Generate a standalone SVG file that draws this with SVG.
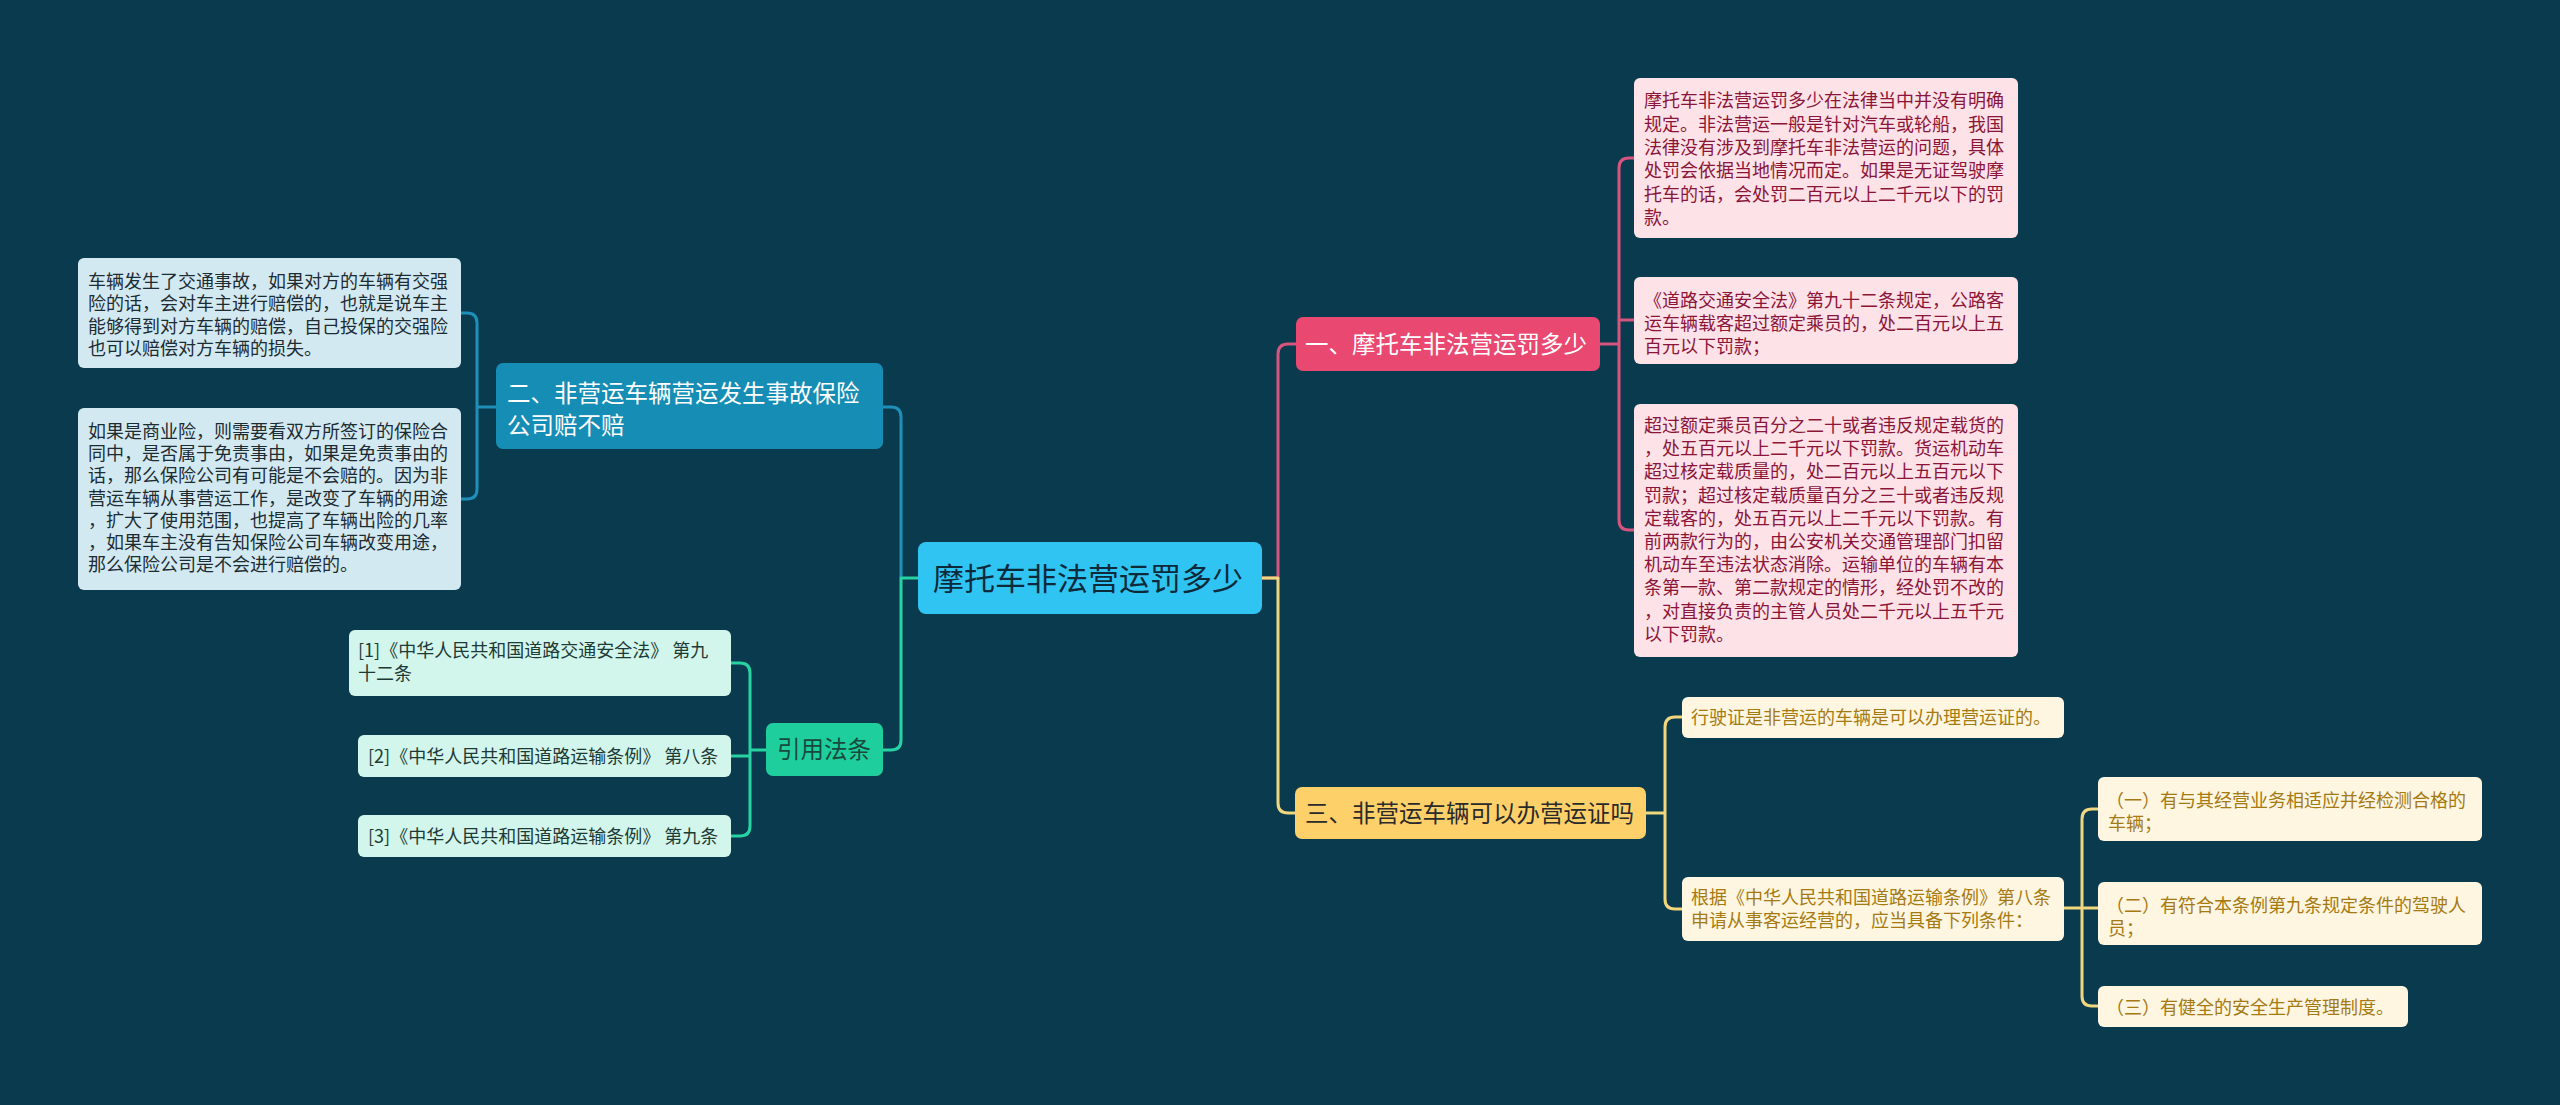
<svg xmlns="http://www.w3.org/2000/svg" width="2560" height="1105" viewBox="0 0 2560 1105">
<style>
text{font-family:"Noto Sans CJK SC","Noto Sans",sans-serif;}
.leaf{font-size:18px;}
.br{font-size:23.5px;}
.c{fill:none;stroke-width:3;stroke-linejoin:round;}
.pk{stroke:#d6547e;} .yl{stroke:#f0d67c;} .bl{stroke:#1d8fb8;} .gr{stroke:#27d3a2;}
.pkl rect{fill:#fde2e8;} .pkl text{fill:#8b1538;}
.yll rect{fill:#fef6e0;} .yll text{fill:#a57a12;}
.bll rect{fill:#d3e9f1;} .bll text{fill:#1d2b33;}
.grl rect{fill:#d2f6ec;} .grl text{fill:#1d3a36;}
</style>
<rect width="2560" height="1105" fill="#0a3a4d"/>
<g id="connectors">
<path class="c pk" d="M1262,578 H1278 V354 Q1278,344 1288,344 H1296"/>
<path class="c yl" d="M1262,578 H1278 V803 Q1278,813 1288,813 H1295"/>
<path class="c pk" d="M1600,344 H1619 V168 Q1619,158 1629,158 H1634 M1619,344 V320 H1634 M1619,344 V520 Q1619,530 1629,530 H1634"/>
<path class="c yl" d="M1646,813 H1665 V727 Q1665,717 1675,717 H1682 M1665,813 V899 Q1665,909 1675,909 H1682"/>
<path class="c yl" d="M2064,908 H2082 V819 Q2082,809 2092,809 H2098 M2082,908 H2098 M2082,908 V996 Q2082,1006 2092,1006 H2098"/>
<path class="c bl" d="M901,578 V417 Q901,407 891,407 H883"/>
<path class="c gr" d="M918,578 H901 V740 Q901,750 891,750 H883"/>
<path class="c bl" d="M496,407 H477 V323 Q477,313 467,313 H461 M477,407 V489 Q477,499 467,499 H461"/>
<path class="c gr" d="M766,750 H750 V673 Q750,663 740,663 H731 M750,750 V756 H731 M750,750 V826 Q750,836 740,836 H731"/>
</g>
<g id="center">
<rect x="918" y="542" width="344" height="72" rx="8" fill="#30c4f2"/>
<text x="933" y="590" font-size="31" fill="#0d2a3a">摩托车非法营运罚多少</text>
</g>
<g id="branch1">
<rect x="1296" y="317" width="304" height="54" rx="7" fill="#e94870"/>
<text class="br" x="1305" y="353" fill="#ffffff">一、摩托车非法营运罚多少</text>
</g>
<g id="leaf1a" class="pkl">
<rect x="1634" y="78" width="384" height="160" rx="6"/>
<text class="leaf" x="1644" y="107">摩托车非法营运罚多少在法律当中并没有明确</text>
<text class="leaf" x="1644" y="130.5">规定。非法营运一般是针对汽车或轮船，我国</text>
<text class="leaf" x="1644" y="154">法律没有涉及到摩托车非法营运的问题，具体</text>
<text class="leaf" x="1644" y="177">处罚会依据当地情况而定。如果是无证驾驶摩</text>
<text class="leaf" x="1644" y="200.5">托车的话，会处罚二百元以上二千元以下的罚</text>
<text class="leaf" x="1644" y="224">款。</text>
</g>
<g id="leaf1b" class="pkl">
<rect x="1634" y="277" width="384" height="87" rx="6"/>
<text class="leaf" x="1644" y="307">《道路交通安全法》第九十二条规定，公路客</text>
<text class="leaf" x="1644" y="330">运车辆载客超过额定乘员的，处二百元以上五</text>
<text class="leaf" x="1644" y="353">百元以下罚款；</text>
</g>
<g id="leaf1c" class="pkl">
<rect x="1634" y="404" width="384" height="253" rx="6"/>
<text class="leaf" x="1644" y="432">超过额定乘员百分之二十或者违反规定载货的</text>
<text class="leaf" x="1644" y="455.2">，处五百元以上二千元以下罚款。货运机动车</text>
<text class="leaf" x="1644" y="478.4">超过核定载质量的，处二百元以上五百元以下</text>
<text class="leaf" x="1644" y="501.6">罚款；超过核定载质量百分之三十或者违反规</text>
<text class="leaf" x="1644" y="524.8">定载客的，处五百元以上二千元以下罚款。有</text>
<text class="leaf" x="1644" y="548">前两款行为的，由公安机关交通管理部门扣留</text>
<text class="leaf" x="1644" y="571.2">机动车至违法状态消除。运输单位的车辆有本</text>
<text class="leaf" x="1644" y="594.4">条第一款、第二款规定的情形，经处罚不改的</text>
<text class="leaf" x="1644" y="617.6">，对直接负责的主管人员处二千元以上五千元</text>
<text class="leaf" x="1644" y="640.8">以下罚款。</text>
</g>
<g id="branch3">
<rect x="1295" y="787" width="351" height="52" rx="7" fill="#fed06a"/>
<text class="br" x="1305" y="822" fill="#2a2a2a">三、非营运车辆可以办营运证吗</text>
</g>
<g id="leaf3a" class="yll">
<rect x="1682" y="697" width="382" height="41" rx="6"/>
<text class="leaf" x="1691" y="724">行驶证是非营运的车辆是可以办理营运证的。</text>
</g>
<g id="leaf3b" class="yll">
<rect x="1682" y="877" width="382" height="64" rx="6"/>
<text class="leaf" x="1691" y="903.5">根据《中华人民共和国道路运输条例》第八条</text>
<text class="leaf" x="1691" y="926.5">申请从事客运经营的，应当具备下列条件：</text>
</g>
<g id="leaf3b1" class="yll">
<rect x="2098" y="777" width="384" height="64" rx="6"/>
<text class="leaf" x="2106" y="806.5">（一）有与其经营业务相适应并经检测合格的</text>
<text class="leaf" x="2108" y="829.5">车辆；</text>
</g>
<g id="leaf3b2" class="yll">
<rect x="2098" y="882" width="384" height="63" rx="6"/>
<text class="leaf" x="2106" y="911.5">（二）有符合本条例第九条规定条件的驾驶人</text>
<text class="leaf" x="2108" y="934.5">员；</text>
</g>
<g id="leaf3b3" class="yll">
<rect x="2098" y="986" width="310" height="41" rx="6"/>
<text class="leaf" x="2106" y="1014">（三）有健全的安全生产管理制度。</text>
</g>
<g id="branch2">
<rect x="496" y="363" width="387" height="86" rx="7" fill="#168db5"/>
<text class="br" x="507" y="402" fill="#ffffff">二、非营运车辆营运发生事故保险</text>
<text class="br" x="507" y="434" fill="#ffffff">公司赔不赔</text>
</g>
<g id="leaf2a" class="bll">
<rect x="78" y="258" width="383" height="110" rx="6"/>
<text class="leaf" x="88" y="288">车辆发生了交通事故，如果对方的车辆有交强</text>
<text class="leaf" x="88" y="310.3">险的话，会对车主进行赔偿的，也就是说车主</text>
<text class="leaf" x="88" y="332.6">能够得到对方车辆的赔偿，自己投保的交强险</text>
<text class="leaf" x="88" y="354.9">也可以赔偿对方车辆的损失。</text>
</g>
<g id="leaf2b" class="bll">
<rect x="78" y="408" width="383" height="182" rx="6"/>
<text class="leaf" x="88" y="438">如果是商业险，则需要看双方所签订的保险合</text>
<text class="leaf" x="88" y="460.2">同中，是否属于免责事由，如果是免责事由的</text>
<text class="leaf" x="88" y="482.4">话，那么保险公司有可能是不会赔的。因为非</text>
<text class="leaf" x="88" y="504.6">营运车辆从事营运工作，是改变了车辆的用途</text>
<text class="leaf" x="88" y="526.8">，扩大了使用范围，也提高了车辆出险的几率</text>
<text class="leaf" x="88" y="549">，如果车主没有告知保险公司车辆改变用途，</text>
<text class="leaf" x="88" y="571.2">那么保险公司是不会进行赔偿的。</text>
</g>
<g id="branch4">
<rect x="766" y="723" width="117" height="53" rx="7" fill="#1ecf9d"/>
<text class="br" x="777" y="758" fill="#174a3d">引用法条</text>
</g>
<g id="cite1" class="grl">
<rect x="349" y="630" width="382" height="66" rx="6"/>
<text class="leaf" x="358" y="656.5">[1]《中华人民共和国道路交通安全法》 第九</text>
<text class="leaf" x="358" y="679.5">十二条</text>
</g>
<g id="cite2" class="grl">
<rect x="358" y="735" width="373" height="42" rx="6"/>
<text class="leaf" x="368" y="762.5">[2]《中华人民共和国道路运输条例》 第八条</text>
</g>
<g id="cite3" class="grl">
<rect x="358" y="815" width="373" height="42" rx="6"/>
<text class="leaf" x="368" y="842.5">[3]《中华人民共和国道路运输条例》 第九条</text>
</g>
</svg>
